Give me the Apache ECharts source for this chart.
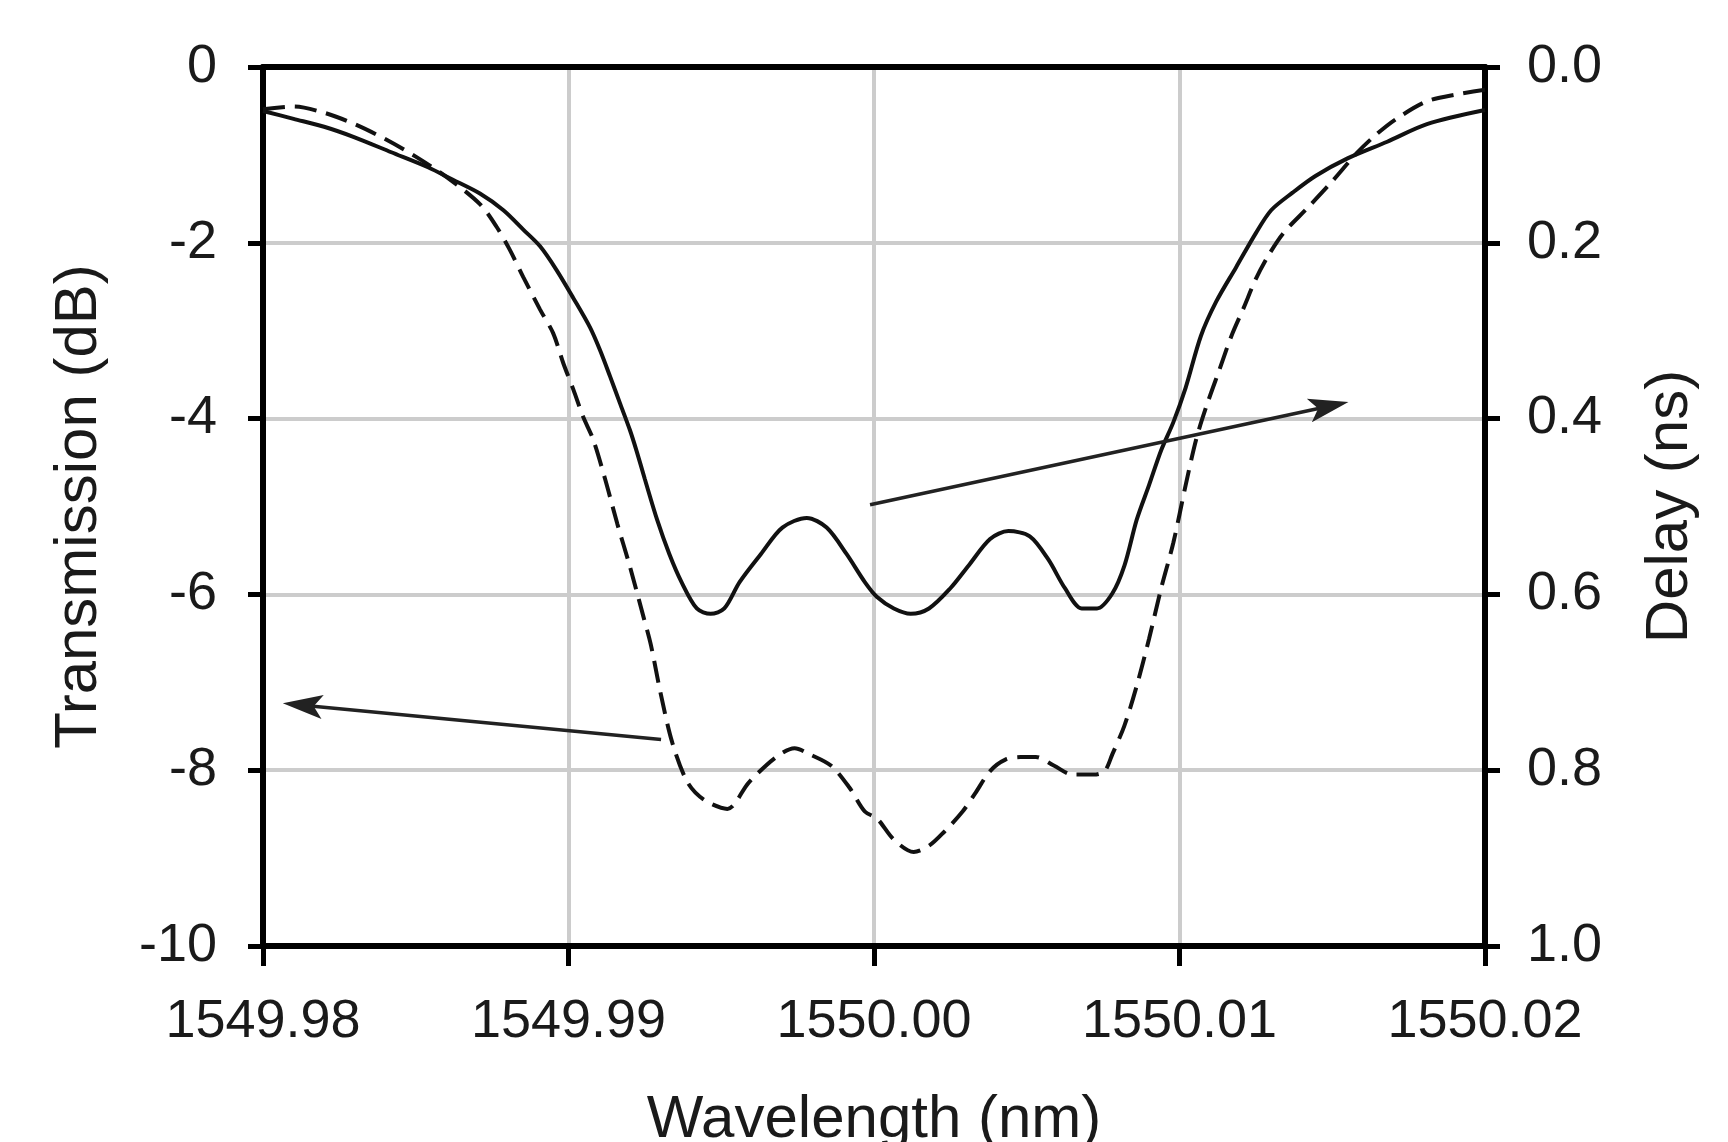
<!DOCTYPE html>
<html>
<head>
<meta charset="utf-8">
<script src="https://cdn.jsdelivr.net/npm/echarts@6/dist/echarts.min.js"></script>
<style>
  html, body { margin: 0; padding: 0; background: #ffffff; }
  #chart { width: 1728px; height: 1142px; }
</style>
</head>
<body>
<div id="chart"></div>
<script>
// Dashed curve: transmission (dB), left axis
const transWl = [1549.9800, 1549.9810, 1549.9820, 1549.9830, 1549.9840, 1549.9850, 1549.9860, 1549.9871,
  1549.98765, 1549.98808, 1549.98852, 1549.98907, 1549.9895, 1549.98983, 1549.99016, 1549.99048, 1549.99081,
  1549.9912, 1549.9916, 1549.9920,
  1549.99245, 1549.9927, 1549.9930, 1549.9934, 1549.9939, 1549.99445, 1549.9952, 1549.9959, 1549.9968,
  1549.9974, 1549.9979, 1549.9986, 1549.9992, 1549.9997, 1550.0001, 1550.00065, 1550.0013, 1550.0018,
  1550.0023, 1550.0029, 1550.0033, 1550.0038, 1550.0043, 1550.0048, 1550.0053, 1550.0059, 1550.0065,
  1550.0072, 1550.00755, 1550.0078, 1550.0082, 1550.0086, 1550.0090, 1550.0094, 1550.0098, 1550.0102,
  1550.01055, 1550.0109, 1550.0113, 1550.0117, 1550.0121, 1550.0125, 1550.0129, 1550.0134, 1550.0142,
  1550.0150, 1550.0158, 1550.0164, 1550.0171, 1550.0181, 1550.0191, 1550.0200];
const transDb = [-0.48, -0.45, -0.52, -0.65, -0.82, -1.02, -1.25, -1.56,
  -1.82, -2.08, -2.39, -2.76, -3.03, -3.37, -3.67, -3.98, -4.24,
  -4.69, -5.20, -5.67,
  -6.25, -6.58, -7.10, -7.69, -8.14, -8.34, -8.44, -8.14, -7.85,
  -7.75, -7.82, -7.95, -8.20, -8.47, -8.55, -8.79, -8.93, -8.86,
  -8.70, -8.47, -8.27, -8.01, -7.88, -7.85, -7.85, -7.95, -8.05,
  -8.05, -8.01, -7.82, -7.49, -7.04, -6.51, -5.93, -5.41, -4.76,
  -4.23, -3.84, -3.45, -3.06, -2.74, -2.41, -2.15, -1.89, -1.60,
  -1.30, -0.98, -0.78, -0.59, -0.39, -0.31, -0.26];

// Solid curve: group delay (ns), right axis
const delayWl = [1549.9800, 1549.9810, 1549.9820, 1549.9830, 1549.9842, 1549.9854, 1549.9862, 1549.9871,
  1549.98787, 1549.98852, 1549.98907, 1549.98961, 1549.99016, 1549.9907, 1549.99103, 1549.99136,
  1549.99169, 1549.99201, 1549.99223, 1549.9925, 1549.9929, 1549.9933, 1549.9937, 1549.9942,
  1549.99465, 1549.9951, 1549.9956,
  1549.9963, 1549.9970, 1549.9978, 1549.99845, 1549.9991, 1549.9997, 1550.0001, 1550.00065, 1550.0012,
  1550.0018, 1550.0025, 1550.0031, 1550.0038, 1550.0044, 1550.0051, 1550.0057, 1550.00625, 1550.0068,
  1550.0073, 1550.0078, 1550.0082, 1550.0086, 1550.0090, 1550.0094, 1550.0098, 1550.0102, 1550.0107,
  1550.0112, 1550.01185, 1550.0125, 1550.0130, 1550.0137, 1550.01445, 1550.0155, 1550.0168, 1550.0181,
  1550.0200];
const delayNs = [0.050, 0.059, 0.068, 0.080, 0.097, 0.114, 0.128, 0.144,
  0.163, 0.185, 0.204, 0.231, 0.263, 0.296, 0.322, 0.352,
  0.383, 0.413, 0.437, 0.469, 0.515, 0.554, 0.586, 0.616,
  0.622, 0.616, 0.586,
  0.554, 0.524, 0.513, 0.524, 0.554, 0.586, 0.603, 0.616, 0.622,
  0.616, 0.593, 0.567, 0.537, 0.528, 0.534, 0.560, 0.593, 0.616,
  0.616, 0.599, 0.567, 0.515, 0.476, 0.436, 0.404, 0.365, 0.306,
  0.267, 0.228, 0.189, 0.163, 0.143, 0.124, 0.104, 0.085, 0.065,
  0.049];

// Annotation arrows (wavelength / dB coordinates; arrowhead drawn at the "to" end)
const arrowFrom = [[1549.99303, -7.65], [1549.99987, -4.98]];
const arrowTo   = [[1549.98130, -7.26], [1550.01489, -3.86]];

const xTicks = { min: 1549.98, max: 1550.02, step: 0.01 };
const yLeftTicks = { min: -10, max: 0, step: 2 };
const yRightTicks = { min: 0, max: 1, step: 0.2 };

const FONT = "'Liberation Sans', Arial, sans-serif";
const chart = echarts.init(document.getElementById('chart'), null, { renderer: 'canvas' });

const labelStyle = { color: '#1a1a1a', fontSize: 54, fontFamily: FONT };
const nameStyle = { color: '#1a1a1a', fontSize: 60, fontFamily: FONT };
const frameLine = { show: true, onZero: false, lineStyle: { color: '#000', width: 6 } };

chart.setOption({
  backgroundColor: '#ffffff',
  animation: false,
  grid: { left: 263, right: 243, top: 67, bottom: 196, containLabel: false, outerBoundsMode: 'none' },
  xAxis: [
    {
      type: 'value',
      min: xTicks.min, max: xTicks.max, interval: xTicks.step,
      name: 'Wavelength (nm)', nameLocation: 'middle', nameGap: 144, nameTextStyle: nameStyle,
      axisLine: frameLine,
      axisTick: { show: true, inside: false, length: 20, lineStyle: { color: '#000', width: 5 } },
      axisLabel: Object.assign({ margin: 49, formatter: v => v.toFixed(2) }, labelStyle),
      splitLine: { show: true, lineStyle: { color: '#cccccc', width: 4 } },
      z: 3
    },
    {
      type: 'value', position: 'top',
      min: xTicks.min, max: xTicks.max, interval: xTicks.step,
      axisLine: frameLine,
      axisTick: { show: false }, axisLabel: { show: false }, splitLine: { show: false },
      z: 4
    }
  ],
  yAxis: [
    {
      type: 'value', position: 'left',
      min: yLeftTicks.min, max: yLeftTicks.max, interval: yLeftTicks.step,
      name: 'Transmission (dB)', nameLocation: 'middle', nameGap: 154, nameTextStyle: nameStyle,
      axisLine: frameLine,
      axisTick: { show: true, inside: false, length: 15, lineStyle: { color: '#000', width: 5 } },
      axisLabel: Object.assign({ margin: 46 }, labelStyle),
      splitLine: { show: true, lineStyle: { color: '#cccccc', width: 4 } },
      z: 3
    },
    {
      type: 'value', position: 'right', inverse: true,
      min: yRightTicks.min, max: yRightTicks.max, interval: yRightTicks.step,
      name: 'Delay (ns)', nameLocation: 'middle', nameGap: 155, nameTextStyle: nameStyle,
      axisLine: frameLine,
      axisTick: { show: true, inside: false, length: 15, lineStyle: { color: '#000', width: 5 } },
      axisLabel: Object.assign({ margin: 42, formatter: v => v.toFixed(1) }, labelStyle),
      splitLine: { show: false },
      z: 3
    }
  ],
  series: [
    {
      name: 'Transmission', type: 'line', xAxisIndex: 0, yAxisIndex: 0,
      data: transWl.map((w, i) => [w, transDb[i]]),
      showSymbol: false, smooth: 0.3,
      lineStyle: { color: '#111', width: 4, type: [22, 10] },
      markLine: {
        silent: true, animation: false,
        symbol: ['none', 'path://M0,40 L12,0 L24,40 L12,31 Z'],
        symbolSize: [24, 40],
        label: { show: false },
        lineStyle: { type: 'solid', color: '#222', width: 3.5 },
        data: arrowFrom.map((p, i) => [{ coord: p }, { coord: arrowTo[i] }])
      }
    },
    {
      name: 'Delay', type: 'line', xAxisIndex: 0, yAxisIndex: 1,
      data: delayWl.map((w, i) => [w, delayNs[i]]),
      showSymbol: false, smooth: 0.3,
      lineStyle: { color: '#111', width: 4, type: 'solid' }
    }
  ]
});
</script>
</body>
</html>
